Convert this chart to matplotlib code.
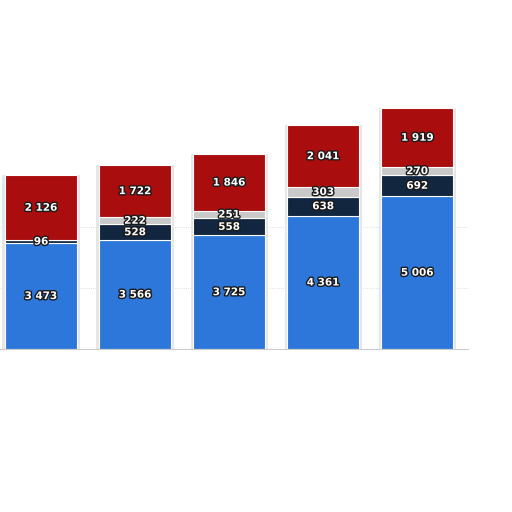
import matplotlib.pyplot as plt
import matplotlib.patheffects as pe
import numpy as np

# data
cats = ['1', '2', '3', '4', '5']
blue = np.array([3473, 3566, 3725, 4361, 5006])
navy = np.array([96, 528, 558, 638, 692])
grey = np.array([0, 222, 251, 303, 270])
red = np.array([2126, 1722, 1846, 2041, 1919])

series = [blue, navy, grey, red]
colors = ['#2D77DA', '#12263F', '#C9C9C9', '#AA0D0D']


def fmt(v):
    return '{:,}'.format(int(v)).replace(',', ' ')


fig = plt.figure(figsize=(5.12, 5.12), dpi=100, facecolor='w')
ax = fig.add_axes([0, 1 - 349 / 512, 468 / 512, (349 - 105) / 512])
xx = np.arange(len(cats))
ax.set_xlim(-0.436, 4.54)
ax.set_ylim(0, 8000)
ax.set_yticks([2000, 4000])
ax.grid(axis='y', color='#d6d6d6', linestyle=':', linewidth=0.6)
ax.set_axisbelow(True)
for s in ['top', 'right', 'left']:
    ax.spines[s].set_visible(False)
ax.spines['bottom'].set_color('#cccccc')
ax.tick_params(left=False, bottom=False, labelleft=False, labelbottom=False)

# soft shadows behind the bars
tot = blue + navy + grey + red
ax.bar(xx, tot, width=0.82, color='#e6e6e6', zorder=1)

bottom = np.zeros(len(cats))
outline = [pe.withStroke(linewidth=2, foreground='#1a1a1a')]
for vals, c in zip(series, colors):
    ax.bar(xx, vals, bottom=bottom, width=0.77, color=c,
           edgecolor='white', linewidth=0.8, zorder=2)
    for x, v, b in zip(xx, vals, bottom):
        if v > 0:
            ax.text(x, b + v / 2, fmt(v), ha='center', va='center',
                    color='white', fontsize=7.5, fontweight='bold',
                    path_effects=outline, zorder=3)
    bottom = bottom + vals

fig.savefig('out.png', dpi=100)
